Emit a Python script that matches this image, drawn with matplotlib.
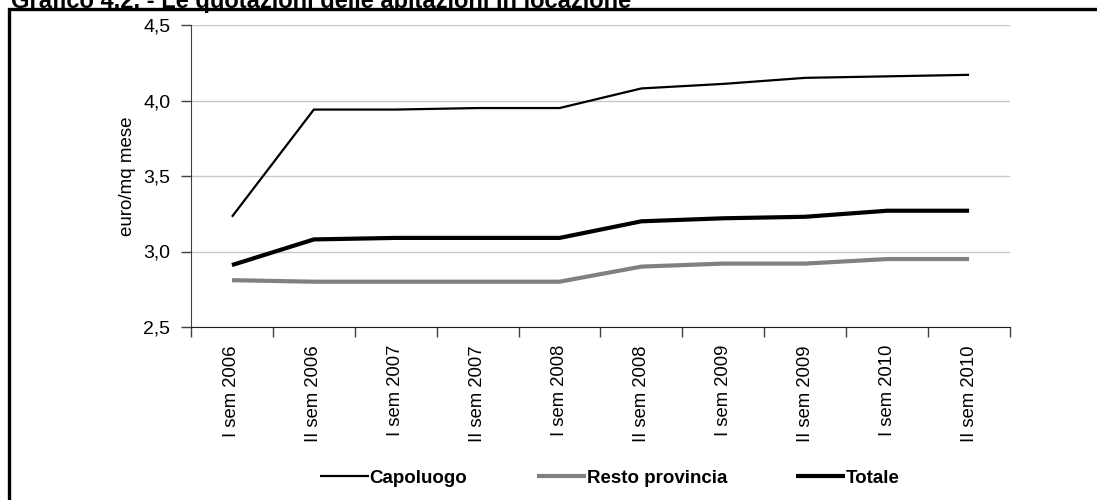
import matplotlib.pyplot as plt
import matplotlib.ticker as mticker
from matplotlib.patches import Rectangle

plt.rcParams['font.family'] = ['Liberation Sans', 'DejaVu Sans']

periodi = ['I sem 2006', 'II sem 2006', 'I sem 2007', 'II sem 2007', 'I sem 2008',
           'II sem 2008', 'I sem 2009', 'II sem 2009', 'I sem 2010', 'II sem 2010']
capoluogo = [3.23, 3.94, 3.94, 3.95, 3.95, 4.08, 4.11, 4.15, 4.16, 4.17]
resto_provincia = [2.81, 2.80, 2.80, 2.80, 2.80, 2.90, 2.92, 2.92, 2.95, 2.95]
totale = [2.91, 3.08, 3.09, 3.09, 3.09, 3.20, 3.22, 3.23, 3.27, 3.27]

fig = plt.figure(figsize=(10.97, 5.0), dpi=100)
ax = fig.add_axes([0.1741, 0.346, 0.7466, 0.604])

x = range(len(periodi))
ax.plot(x, capoluogo, color='black', lw=1.6, label='Capoluogo', solid_capstyle='butt')
ax.plot(x, resto_provincia, color='#808080', lw=3.0, label='Resto provincia', solid_capstyle='butt')
ax.plot(x, totale, color='black', lw=3.0, label='Totale', solid_capstyle='butt')

ax.set_xlim(-0.5, len(periodi) - 0.5)
ax.set_ylim(2.5, 4.5)
ax.set_yticks([2.5, 3.0, 3.5, 4.0, 4.5])
ax.yaxis.set_major_formatter(mticker.FuncFormatter(lambda v, p: f'{v:.1f}'.replace('.', ',')))
ax.grid(axis='y', color='#c8c8c8', lw=1)
ax.set_axisbelow(True)

ax.set_xticks(list(x))
ax.set_xticklabels(periodi, rotation=90, fontsize=13.3)
ax.set_xticks([i - 0.5 for i in range(len(periodi) + 1)], minor=True)
ax.tick_params(axis='x', which='major', length=0, pad=13)
ax.tick_params(axis='x', which='minor', length=7, width=1, direction='out', color='#404040')
ax.tick_params(axis='y', length=7, width=1, direction='out', color='#404040', labelsize=14, pad=8)

for s in ['top', 'right']:
    ax.spines[s].set_visible(False)
ax.spines['left'].set_color('#404040')
ax.spines['bottom'].set_color('#202020')

ax.set_ylabel('euro/mq mese', fontsize=13.5, labelpad=5)

fig.legend(loc='center', bbox_to_anchor=(0.556, 0.044), ncol=3, frameon=False,
           prop={'weight': 'bold', 'size': 13.5}, handlelength=2.6, columnspacing=3.7,
           handletextpad=0.05)

# cornice del grafico e titolo
fig.patches.append(Rectangle((0.0082, -0.1), 1.2, 1.082, transform=fig.transFigure,
                             fill=False, edgecolor='black', lw=2.4))
fig.text(0.010, 0.984, 'Grafico 4.2. - Le quotazioni delle abitazioni in locazione',
         fontsize=17, fontweight='bold', va='baseline', ha='left')

fig.savefig('out.png', dpi=100)
